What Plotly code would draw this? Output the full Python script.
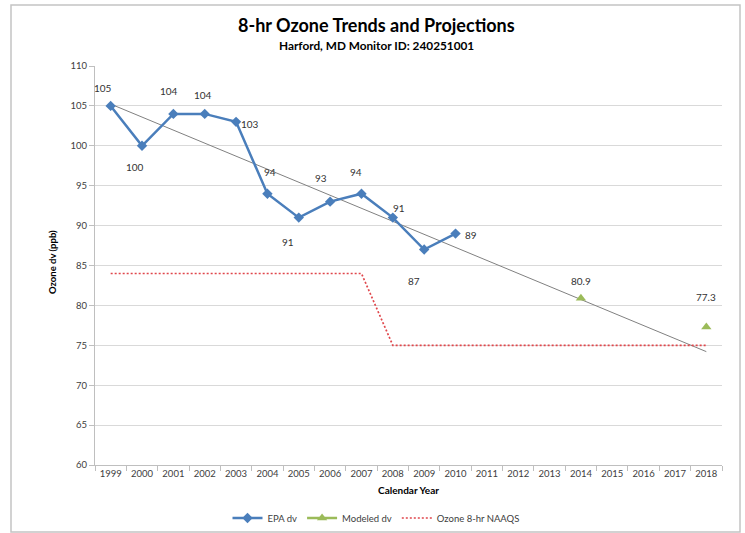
import numpy as np
import plotly.graph_objects as go

years = list(range(1999, 2019))
epa_years = list(range(1999, 2011))
epa_dv = [105, 100, 104, 104, 103, 94, 91, 93, 94, 91, 87, 89]
modeled_years = [2014, 2018]
modeled_dv = [80.9, 77.3]
naaqs_years = list(range(1999, 2019))
naaqs = [84] * 9 + [75] * 11
y_ticks = list(range(60, 111, 5))

# label offsets (pixels) for the EPA data labels (style only)
epa_label_shift = [(-8, 18), (-7, -21), (-4, 23), (-2, 19), (14, -2), (3, 22),
                   (-11, -24), (-9, 24), (-5, 22), (6, 10), (-10, -31), (15, -1)]
mod_label_shift = [(0, 17), (0, 30)]

# Linear trendline from EPA data (like Excel's linear trendline), extended to 2018
coef = np.polyfit(epa_years, epa_dv, 1)
trend_x = [years[0], years[-1]]
trend_y = list(np.polyval(coef, trend_x))

# Modeled series over all years, with gaps
mod_full = [modeled_dv[modeled_years.index(y)] if y in modeled_years else None for y in years]

FONT = "Lato"
fig = go.Figure()

fig.add_trace(go.Scatter(x=trend_x, y=trend_y, mode="lines",
                         line=dict(color="#808080", width=1), showlegend=False,
                         hoverinfo="skip"))
fig.add_trace(go.Scatter(x=naaqs_years, y=naaqs, mode="lines", name="Ozone 8-hr NAAQS",
                         line=dict(color="#e0474c", width=1.7, dash="2px,2px")))
fig.add_trace(go.Scatter(x=epa_years, y=epa_dv, mode="lines+markers", name="EPA dv",
                         line=dict(color="#4a7ebb", width=2.5),
                         marker=dict(symbol="diamond", size=8, color="#4a7ebb")))
fig.add_trace(go.Scatter(x=years, y=mod_full, mode="lines+markers", name="Modeled dv",
                         connectgaps=False,
                         line=dict(color="#9bbb59", width=2.5),
                         marker=dict(symbol="triangle-up", size=9, color="#9bbb59")))

annotations = []
for xv, yv, (dx, dy) in zip(epa_years, epa_dv, epa_label_shift):
    annotations.append(dict(x=xv, y=yv, text=str(yv), showarrow=False,
                            xshift=dx, yshift=dy, xanchor="center", yanchor="middle",
                            font=dict(family=FONT, size=10, color="#333333")))
for xv, yv, (dx, dy) in zip(modeled_years, modeled_dv, mod_label_shift):
    annotations.append(dict(x=xv, y=yv, text=f"{yv:.1f}", showarrow=False,
                            xshift=dx, yshift=dy, xanchor="center", yanchor="middle",
                            font=dict(family=FONT, size=10, color="#333333")))

L, R, T, B = 95, 23, 66, 68
W, H = 745, 533
pw, ph = W - L - R, H - T - B
def px(xp):
    return (xp - L) / pw
def py(yp):
    return (H - B - yp) / ph

annotations.append(dict(xref="paper", yref="paper", x=px(376), y=py(25),
                        xanchor="center", yanchor="middle",
                        text="<b>8-hr Ozone Trends and Projections</b>", showarrow=False,
                        font=dict(family=FONT, size=18, color="#000000")))
annotations.append(dict(xref="paper", yref="paper", x=px(376), y=py(45),
                        xanchor="center", yanchor="middle",
                        text="<b>Harford, MD Monitor ID: 240251001</b>", showarrow=False,
                        font=dict(family=FONT, size=11.8, color="#000000")))
annotations.append(dict(xref="paper", yref="paper", x=px(52), y=py(262),
                        xanchor="center", yanchor="middle",
                        text="<b>Ozone dv (ppb)</b>", showarrow=False, textangle=-90,
                        font=dict(family=FONT, size=9.5, color="#000000")))

fig.update_layout(
    width=W, height=H,
    margin=dict(l=L, r=R, t=T, b=B, autoexpand=False),
    paper_bgcolor="white", plot_bgcolor="white",
    font=dict(family=FONT, size=10, color="#404040"),
    annotations=annotations,
    showlegend=True,
    legend=dict(orientation="h", x=px(376), xanchor="center", y=py(518), yanchor="middle",
                font=dict(family=FONT, size=9.5, color="#404040"),
                traceorder="normal", itemwidth=30,
                bgcolor="rgba(0,0,0,0)"),
    shapes=[dict(type="rect", xref="paper", yref="paper",
                 x0=px(11), x1=px(740), y0=py(532), y1=py(5),
                 line=dict(color="#c4c4c4", width=1.5), layer="below")],
)

fig.update_xaxes(
    range=[1998.5, 2018.5], tickmode="array", tickvals=years,
    ticktext=[str(y) for y in years], ticks="", showgrid=False,
    showline=True, linecolor="#bfbfbf", linewidth=1,
    tickfont=dict(family=FONT, size=9.5, color="#404040"),
    minor=dict(tickmode="array", tickvals=[y - 0.5 for y in years] + [years[-1] + 0.5],
               ticks="outside", ticklen=5, tickcolor="#bfbfbf", showgrid=False),
    title=dict(text="<b>Calendar Year</b>", font=dict(family=FONT, size=10, color="#000000"),
               standoff=8),
    zeroline=False,
)
fig.update_yaxes(
    range=[60, 110], tickmode="array", tickvals=y_ticks,
    showgrid=True, gridcolor="#d9d9d9", gridwidth=1,
    showline=True, linecolor="#bfbfbf", linewidth=1,
    ticks="outside", ticklen=5, tickcolor="#bfbfbf",
    tickfont=dict(family=FONT, size=9.5, color="#404040"),
    zeroline=False,
)

# reorder legend: EPA dv, Modeled dv, NAAQS
fig.data[1].legendrank = 3
fig.data[2].legendrank = 1
fig.data[3].legendrank = 2

fig.write_html("out.html", config={"displayModeBar": False},
               post_script="document.body.style.margin='0';document.body.style.overflow='hidden';")
